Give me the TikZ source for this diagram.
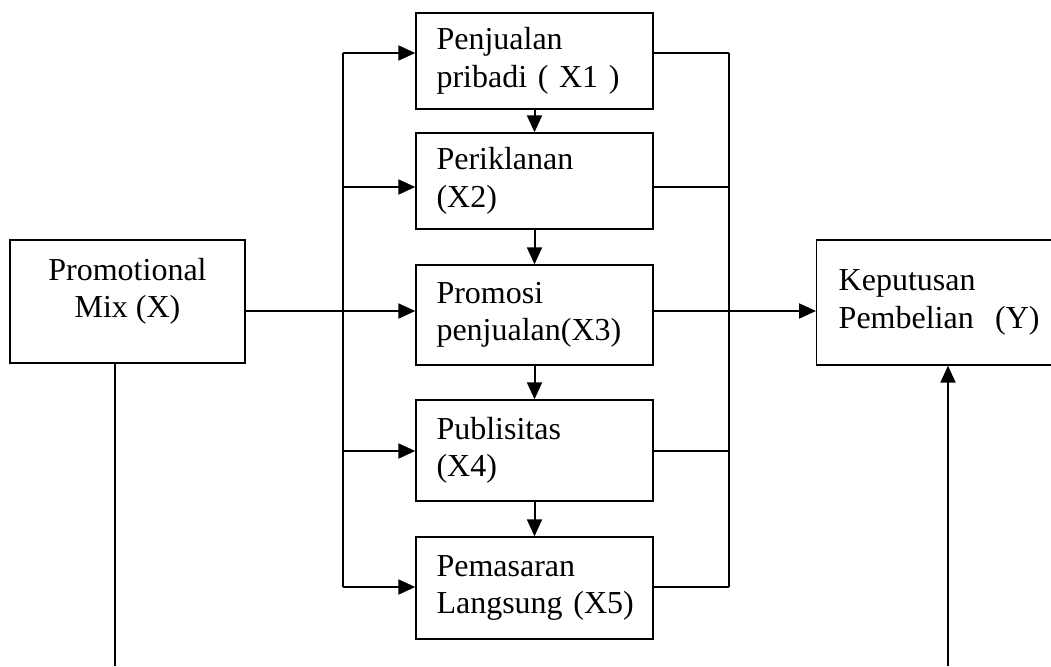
\documentclass[tikz,border=0pt]{standalone}
\usepackage{fontspec}
\setmainfont{Liberation Serif}
\usetikzlibrary{arrows.meta}
\tikzset{
  box/.style={draw,line width=1.4pt,inner xsep=20.5pt,inner ysep=0pt,text width=196pt,align=left,minimum height=#1},
  arr/.style={line width=2pt,-{Triangle[length=17pt,width=15pt]}},
  wire/.style={line width=1.3pt}
}
\begin{document}
\begin{tikzpicture}[x=1pt,y=-1pt,font=\fontsize{32}{37.5}\selectfont]
    \useasboundingbox (0,0) rectangle (1051,666);
    % variabel
    \node [draw,line width=1.4pt,minimum width=235pt,minimum height=123pt,align=center,text depth=27pt] (mix) at (127.5,301.5) {Promotional\\Mix (X)};
    \node [box=96] (b1) at (534.5,61) {Penjualan\\pribadi ( X1 )};
    \node [box=96] (b2) at (534.5,181) {Periklanan\\(X2)};
    \node [box=100] (b3) at (534.5,315) {Promosi\\\mbox{penjualan(X3)}};
    \node [box=101] (b4) at (534.5,450.5) {Publisitas\\(X4)};
    \node [box=102] (b5) at (534.5,588) {Pemasaran\\\mbox{Langsung (X5)}};
    \node [draw,line width=1.4pt,anchor=west,minimum height=125pt,text width=250pt,inner xsep=22pt,align=left] (kep) at (816,302.5) {Keputusan\\Pembelian\ \ (Y)};
    % garis kiri dan kanan
    \foreach \b/\y in {b1/53,b2/187,b3/311,b4/451,b5/587} {
        \coordinate (l\b) at (343,\y);
        \coordinate (r\b) at (729,\y);
        \draw [arr] (l\b) -- (\b.west |- l\b);
        \draw [wire] (\b.east |- r\b) -- (r\b);
    }
    \draw [wire] (lb1) -- (lb5);
    \draw [wire] (rb1) -- (rb5);
    \draw [wire] (mix.east |- lb3) -- (lb3);
    \draw [arr] (rb3) -- (kep.west |- rb3);
    \foreach \a/\b in {b1/b2,b2/b3,b3/b4,b4/b5}
        \draw [arr] (\a) -- (\b);
    % garis bawah
    \coordinate (mb) at (115,666);
    \coordinate (kb) at (948,666);
    \draw [wire] (mix.south -| mb) -- (mb);
    \draw [arr] (kb) -- (kep.south -| kb);
\end{tikzpicture}
\end{document}
